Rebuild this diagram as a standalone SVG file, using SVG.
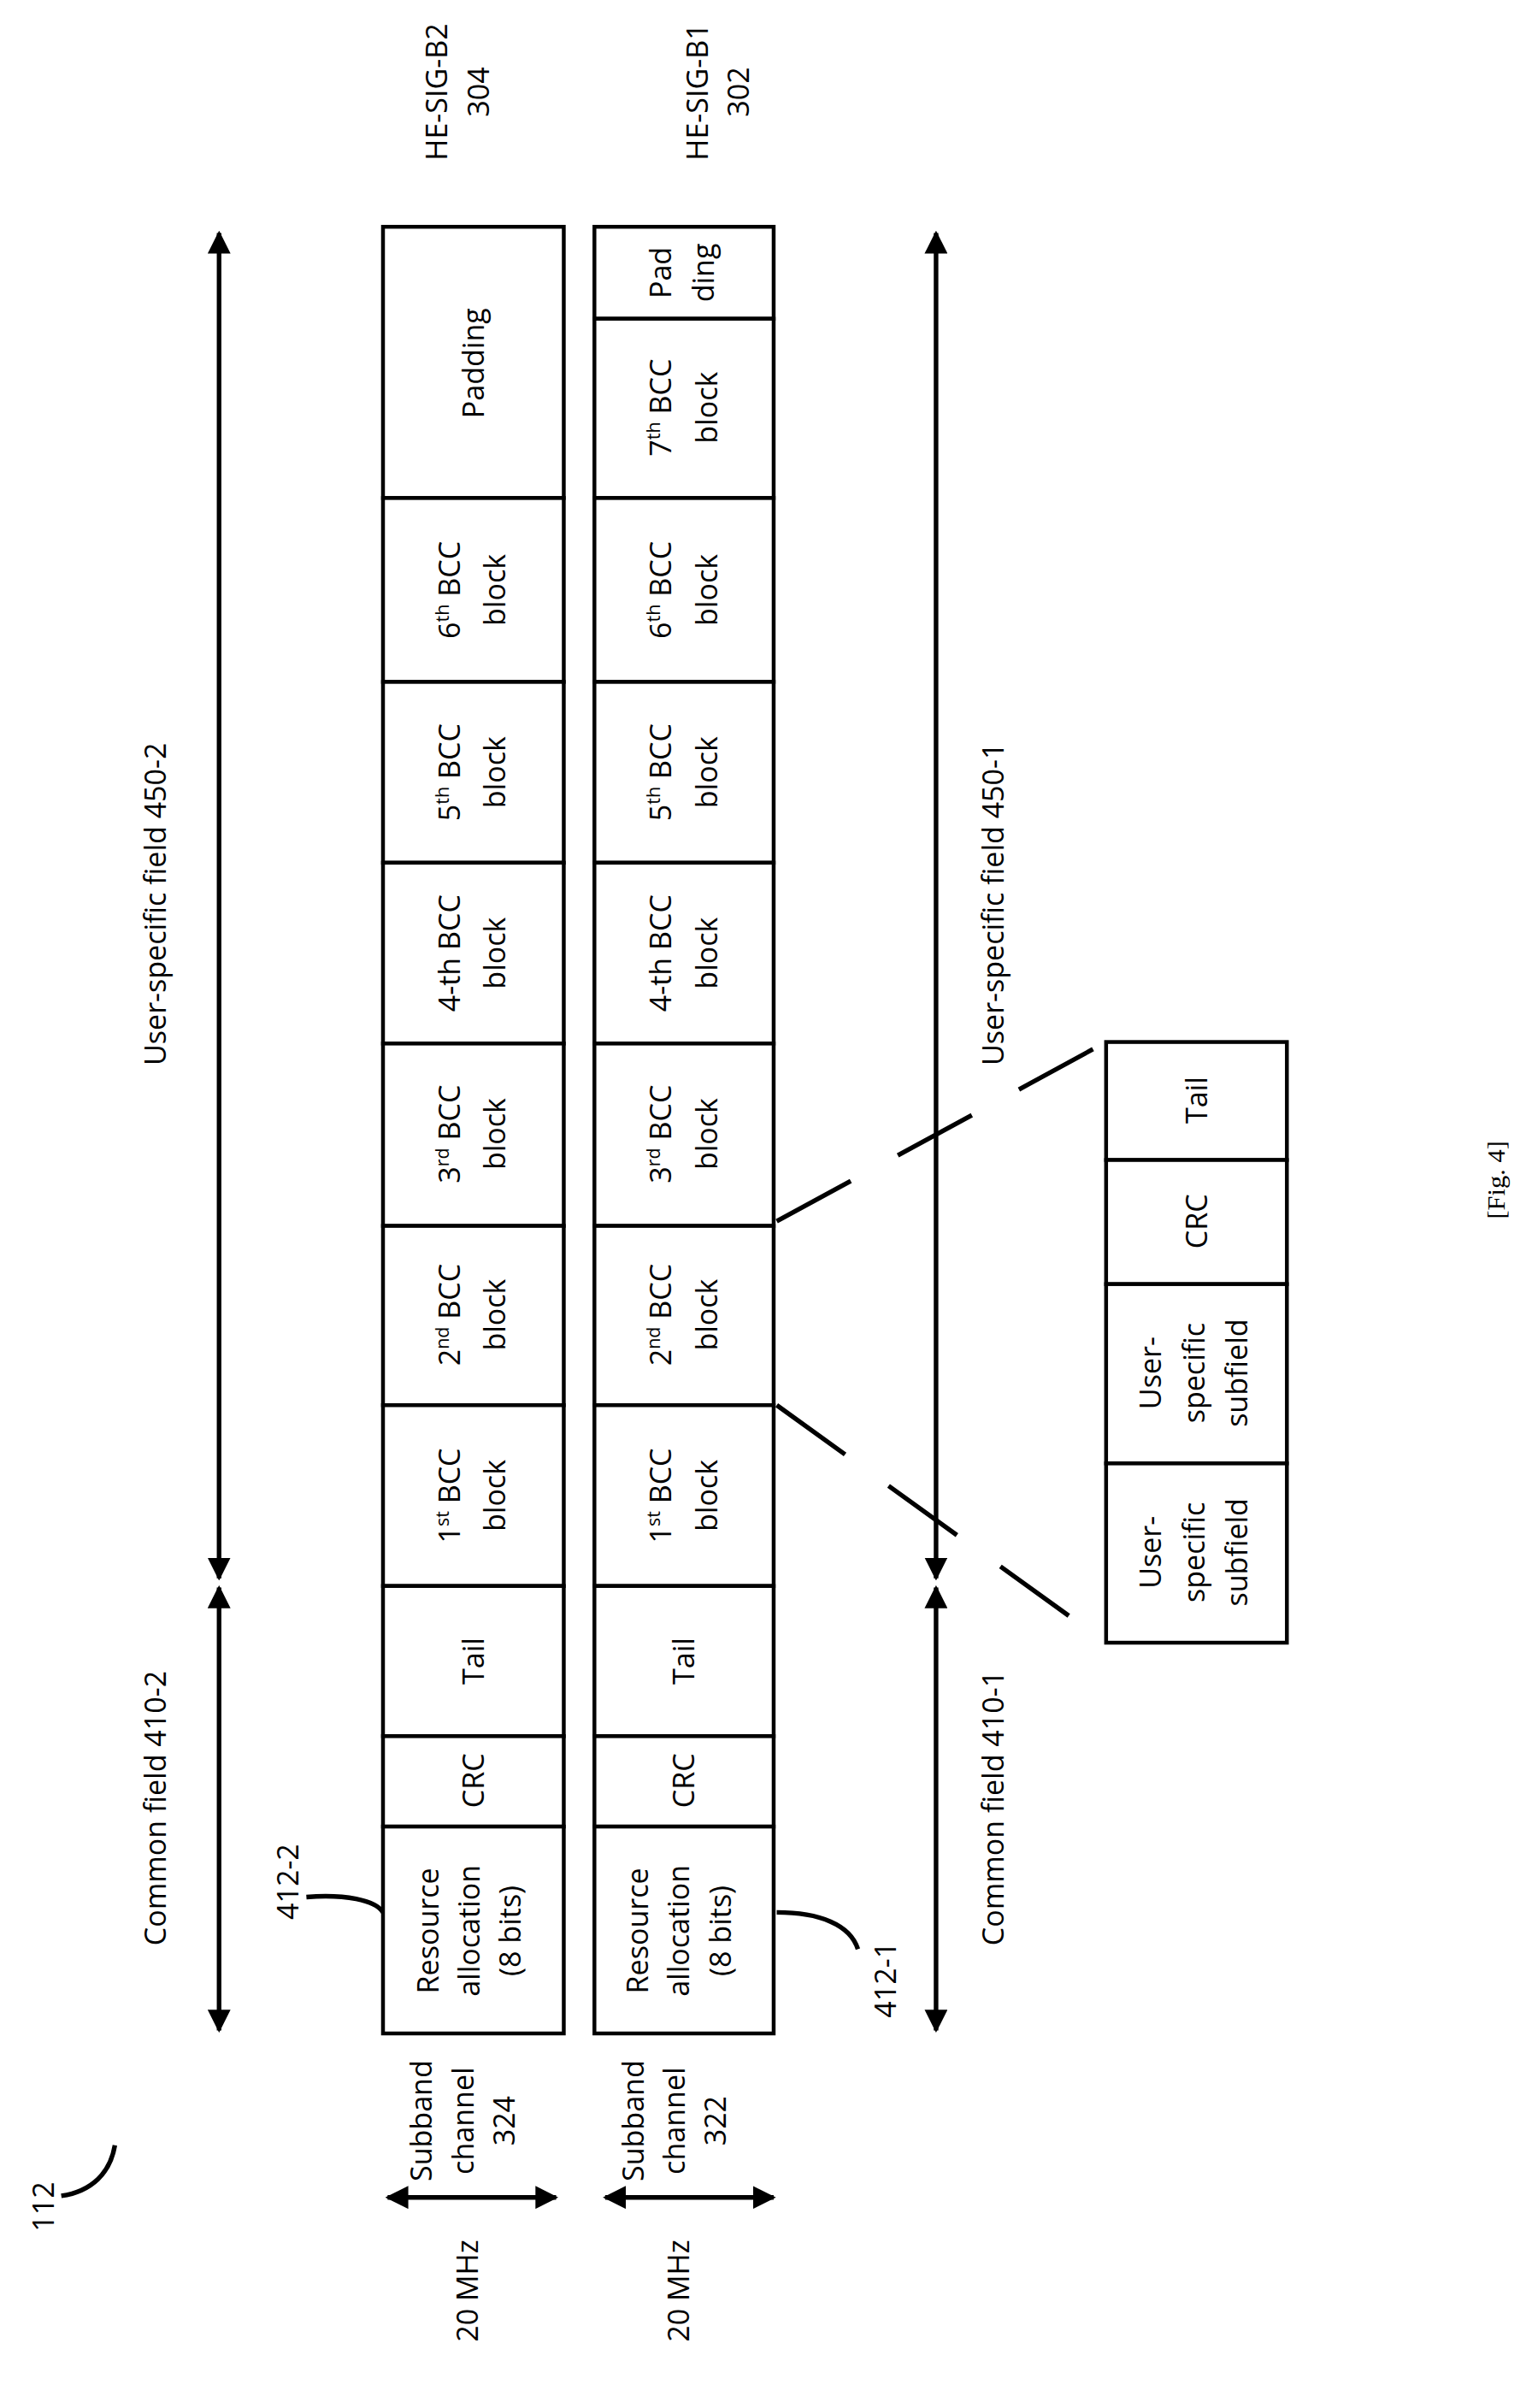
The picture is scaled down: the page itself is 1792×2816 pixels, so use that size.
<svg xmlns="http://www.w3.org/2000/svg" width="1792" height="2816" viewBox="0 0 1792 2816">
<style>
.b{fill:#fff;stroke:#000;stroke-width:2.5}
.t{font-family:"Open Sans","DejaVu Sans",sans-serif;font-size:19px;fill:#000;text-anchor:middle}
.ln{stroke:#000;stroke-width:3;fill:none}
.sm{font-size:12px}
</style>
<defs>
<marker id="ah" viewBox="0 0 10 10" refX="9" refY="5" markerWidth="5" markerHeight="5" orient="auto-start-reverse" markerUnits="strokeWidth"><path d="M0,0 L10,5 L0,10 z" fill="#000"/></marker>
</defs>
<rect width="1792" height="2816" fill="#fff"/>
<g transform="scale(1.792)">
<g id="connectors">
<line class="ln" x1="143" y1="152" x2="143" y2="1030" marker-start="url(#ah)" marker-end="url(#ah)"/>
<line class="ln" x1="143" y1="1036" x2="143" y2="1325" marker-start="url(#ah)" marker-end="url(#ah)"/>
<line class="ln" x1="611" y1="152" x2="611" y2="1030" marker-start="url(#ah)" marker-end="url(#ah)"/>
<line class="ln" x1="611" y1="1036" x2="611" y2="1325" marker-start="url(#ah)" marker-end="url(#ah)"/>
<line class="ln" x1="253" y1="1434" x2="363" y2="1434" marker-start="url(#ah)" marker-end="url(#ah)"/>
<line class="ln" x1="395" y1="1434" x2="505" y2="1434" marker-start="url(#ah)" marker-end="url(#ah)"/>
<line class="ln" x1="507" y1="797" x2="722" y2="680" stroke-dasharray="55,35"/>
<line class="ln" x1="507" y1="917" x2="722" y2="1072" stroke-dasharray="55,35"/>
<path class="ln" d="M200,1238 C225,1236 245,1240 250,1248"/>
<path class="ln" d="M507,1248 C535,1248 555,1256 560,1272"/>
<path class="ln" d="M40,1433 C60,1430 72,1418 75,1400"/>
</g>
<g id="sigb2">
<rect class="b" x="250" y="148" width="118" height="177"/>
<rect class="b" x="250" y="325" width="118" height="120"/>
<rect class="b" x="250" y="445" width="118" height="118"/>
<rect class="b" x="250" y="563" width="118" height="118"/>
<rect class="b" x="250" y="681" width="118" height="119"/>
<rect class="b" x="250" y="800" width="118" height="117"/>
<rect class="b" x="250" y="917" width="118" height="118"/>
<rect class="b" x="250" y="1035" width="118" height="98"/>
<rect class="b" x="250" y="1133" width="118" height="59"/>
<rect class="b" x="250" y="1192" width="118" height="135"/>
<text class="t" transform="translate(316,237) rotate(-90)">Padding</text>
<text class="t" transform="translate(300,385) rotate(-90)">6<tspan class="sm" dy="-7">th</tspan><tspan dy="7"> BCC</tspan><tspan x="0" dy="30">block</tspan></text>
<text class="t" transform="translate(300,504) rotate(-90)">5<tspan class="sm" dy="-7">th</tspan><tspan dy="7"> BCC</tspan><tspan x="0" dy="30">block</tspan></text>
<text class="t" transform="translate(300,622) rotate(-90)">4-th BCC<tspan x="0" dy="30">block</tspan></text>
<text class="t" transform="translate(300,740) rotate(-90)">3<tspan class="sm" dy="-7">rd</tspan><tspan dy="7"> BCC</tspan><tspan x="0" dy="30">block</tspan></text>
<text class="t" transform="translate(300,858) rotate(-90)">2<tspan class="sm" dy="-7">nd</tspan><tspan dy="7"> BCC</tspan><tspan x="0" dy="30">block</tspan></text>
<text class="t" transform="translate(300,976) rotate(-90)">1<tspan class="sm" dy="-7">st</tspan><tspan dy="7"> BCC</tspan><tspan x="0" dy="30">block</tspan></text>
<text class="t" transform="translate(316,1084) rotate(-90)">Tail</text>
<text class="t" transform="translate(316,1162) rotate(-90)">CRC</text>
<text class="t" transform="translate(286,1260) rotate(-90)">Resource<tspan x="0" dy="27">allocation</tspan><tspan x="0" dy="27">(8 bits)</tspan></text>
</g>
<g id="sigb1">
<rect class="b" x="388" y="148" width="117" height="60"/>
<rect class="b" x="388" y="208" width="117" height="117"/>
<rect class="b" x="388" y="325" width="117" height="120"/>
<rect class="b" x="388" y="445" width="117" height="118"/>
<rect class="b" x="388" y="563" width="117" height="118"/>
<rect class="b" x="388" y="681" width="117" height="119"/>
<rect class="b" x="388" y="800" width="117" height="117"/>
<rect class="b" x="388" y="917" width="117" height="118"/>
<rect class="b" x="388" y="1035" width="117" height="98"/>
<rect class="b" x="388" y="1133" width="117" height="59"/>
<rect class="b" x="388" y="1192" width="117" height="135"/>
<text class="t" transform="translate(438,178) rotate(-90)">Pad<tspan x="0" dy="28">ding</tspan></text>
<text class="t" transform="translate(438,266) rotate(-90)">7<tspan class="sm" dy="-7">th</tspan><tspan dy="7"> BCC</tspan><tspan x="0" dy="30">block</tspan></text>
<text class="t" transform="translate(438,385) rotate(-90)">6<tspan class="sm" dy="-7">th</tspan><tspan dy="7"> BCC</tspan><tspan x="0" dy="30">block</tspan></text>
<text class="t" transform="translate(438,504) rotate(-90)">5<tspan class="sm" dy="-7">th</tspan><tspan dy="7"> BCC</tspan><tspan x="0" dy="30">block</tspan></text>
<text class="t" transform="translate(438,622) rotate(-90)">4-th BCC<tspan x="0" dy="30">block</tspan></text>
<text class="t" transform="translate(438,740) rotate(-90)">3<tspan class="sm" dy="-7">rd</tspan><tspan dy="7"> BCC</tspan><tspan x="0" dy="30">block</tspan></text>
<text class="t" transform="translate(438,858) rotate(-90)">2<tspan class="sm" dy="-7">nd</tspan><tspan dy="7"> BCC</tspan><tspan x="0" dy="30">block</tspan></text>
<text class="t" transform="translate(438,976) rotate(-90)">1<tspan class="sm" dy="-7">st</tspan><tspan dy="7"> BCC</tspan><tspan x="0" dy="30">block</tspan></text>
<text class="t" transform="translate(453,1084) rotate(-90)">Tail</text>
<text class="t" transform="translate(453,1162) rotate(-90)">CRC</text>
<text class="t" transform="translate(423,1260) rotate(-90)">Resource<tspan x="0" dy="27">allocation</tspan><tspan x="0" dy="27">(8 bits)</tspan></text>
</g>
<g id="subfields">
<rect class="b" x="722" y="680" width="118" height="77"/>
<rect class="b" x="722" y="757" width="118" height="81"/>
<rect class="b" x="722" y="838" width="118" height="117"/>
<rect class="b" x="722" y="955" width="118" height="117"/>
<text class="t" transform="translate(788,718) rotate(-90)">Tail</text>
<text class="t" transform="translate(788,797) rotate(-90)">CRC</text>
<text class="t" transform="translate(758,896) rotate(-90)">User-<tspan x="0" dy="28">specific</tspan><tspan x="0" dy="28">subfield</tspan></text>
<text class="t" transform="translate(758,1013) rotate(-90)">User-<tspan x="0" dy="28">specific</tspan><tspan x="0" dy="28">subfield</tspan></text>
</g>
<g id="labels">
<text class="t" transform="translate(292,60) rotate(-90)">HE-SIG-B2<tspan x="0" dy="27">304</tspan></text>
<text class="t" transform="translate(462,60) rotate(-90)">HE-SIG-B1<tspan x="0" dy="27">302</tspan></text>
<text class="t" transform="translate(108,590) rotate(-90)">User-specific field 450-2</text>
<text class="t" transform="translate(108,1180) rotate(-90)">Common field 410-2</text>
<text class="t" transform="translate(655,590) rotate(-90)">User-specific field 450-1</text>
<text class="t" transform="translate(655,1180) rotate(-90)">Common field 410-1</text>
<text class="t" transform="translate(195,1228) rotate(-90)">412-2</text>
<text class="t" transform="translate(585,1292) rotate(-90)">412-1</text>
<text class="t" transform="translate(35,1440) rotate(-90)">112</text>
<text class="t" transform="translate(312,1495) rotate(-90)">20 MHz</text>
<text class="t" transform="translate(450,1495) rotate(-90)">20 MHz</text>
<text class="t" transform="translate(282,1384) rotate(-90)">Subband<tspan x="0" dy="27">channel</tspan><tspan x="0" dy="27">324</tspan></text>
<text class="t" transform="translate(420,1384) rotate(-90)">Subband<tspan x="0" dy="27">channel</tspan><tspan x="0" dy="27">322</tspan></text>
<text transform="translate(982,770) rotate(-90)" style="font-family:'Liberation Serif',serif;font-size:17px;text-anchor:middle">[Fig. 4]</text>
</g>
</g>
</svg>
